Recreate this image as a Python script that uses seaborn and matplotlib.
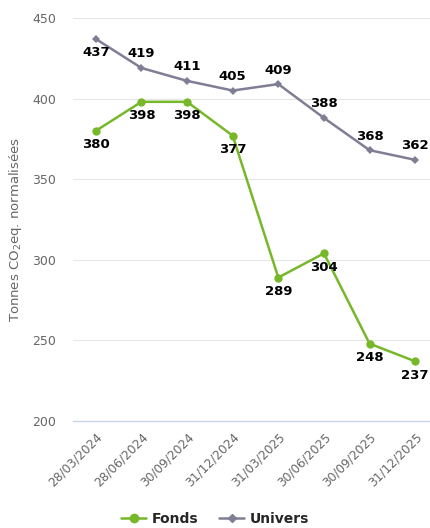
import numpy as np
import pandas as pd
import matplotlib.pyplot as plt
import seaborn as sns
from matplotlib.lines import Line2D

dates = ['28/03/2024', '28/06/2024', '30/09/2024', '31/12/2024',
         '31/03/2025', '30/06/2025', '30/09/2025', '31/12/2025']
fonds = [380, 398, 398, 377, 289, 304, 248, 237]
univers = [437, 419, 411, 405, 409, 388, 368, 362]
# label above (+1) or below (-1) the point
fonds_pos = [-1, -1, -1, -1, -1, -1, -1, -1]
univers_pos = [-1, 1, 1, 1, 1, 1, 1, 1]

green = '#76b82a'
grey = '#7f7e95'

df = pd.DataFrame({'date': dates * 2,
                   'valeur': fonds + univers,
                   'serie': ['Fonds'] * len(dates) + ['Univers'] * len(dates)})
df['x'] = list(range(len(dates))) * 2

sns.set_style('white')
plt.rcParams['font.family'] = ['DejaVu Sans']

fig = plt.figure(figsize=(4.3, 5.28), dpi=100)
ax = fig.add_axes([73/430, 107/528, 365/430, 403/528])

sns.lineplot(data=df, x='x', y='valeur', hue='serie', style='serie',
             palette={'Fonds': green, 'Univers': grey},
             markers={'Fonds': 'o', 'Univers': 'D'}, dashes=False,
             markersize=6, linewidth=1.8, markeredgewidth=0, ax=ax, legend=False)
# diamond a bit smaller
for line in ax.lines:
    if line.get_marker() == 'D':
        line.set_markersize(4.5)

for vals, pos in [(fonds, fonds_pos), (univers, univers_pos)]:
    for i, (v, p) in enumerate(zip(vals, pos)):
        ax.annotate(str(v), (i, v), textcoords='offset pixels',
                    xytext=(0, 14 * p), ha='center', va='center',
                    fontsize=9.5, fontweight='bold', color='black')

ax.set_xlim(-0.5, len(dates) - 0.5)
ax.set_ylim(200, 450)
ax.set_yticks([200, 250, 300, 350, 400, 450])
ax.yaxis.grid(True, color='#e6e6e6', linewidth=0.8)
ax.set_axisbelow(True)
for s in ['top', 'right', 'left']:
    ax.spines[s].set_visible(False)
ax.spines['bottom'].set_color('#ccd6eb')
ax.spines['bottom'].set_linewidth(1)

ax.set_xticks(np.arange(-0.5, len(dates), 1), minor=False)
ax.set_xticklabels([])
ax.tick_params(axis='x', which='major', length=7.5, color='#ccd6eb', width=1)
ax.set_xticks(np.arange(len(dates)), minor=True)
ax.set_xticklabels(dates, minor=True, rotation=45, ha='right',
                   rotation_mode='anchor', fontsize=8.7, color='#666666')
ax.tick_params(axis='x', which='minor', length=0, pad=7)
ax.tick_params(axis='y', length=0, labelsize=9, labelcolor='#666666', pad=12)

ax.set_xlabel('')
ax.set_ylabel('Tonnes CO$_2$eq. normalisées', fontsize=9.5, color='#666666')
ax.yaxis.set_label_coords(-0.135, 0.475)

handles = [Line2D([], [], color=green, marker='o', markersize=6, linewidth=1.8),
           Line2D([], [], color=grey, marker='D', markersize=4.5, linewidth=1.8)]
fig.legend(handles, ['Fonds', 'Univers'], loc='center', bbox_to_anchor=(0.5, 9/528),
           ncol=2, frameon=False, prop={'weight': 'bold', 'size': 10},
           handlelength=1.8, columnspacing=1.5, handletextpad=0.4)

fig.savefig('out.png', dpi=100)
